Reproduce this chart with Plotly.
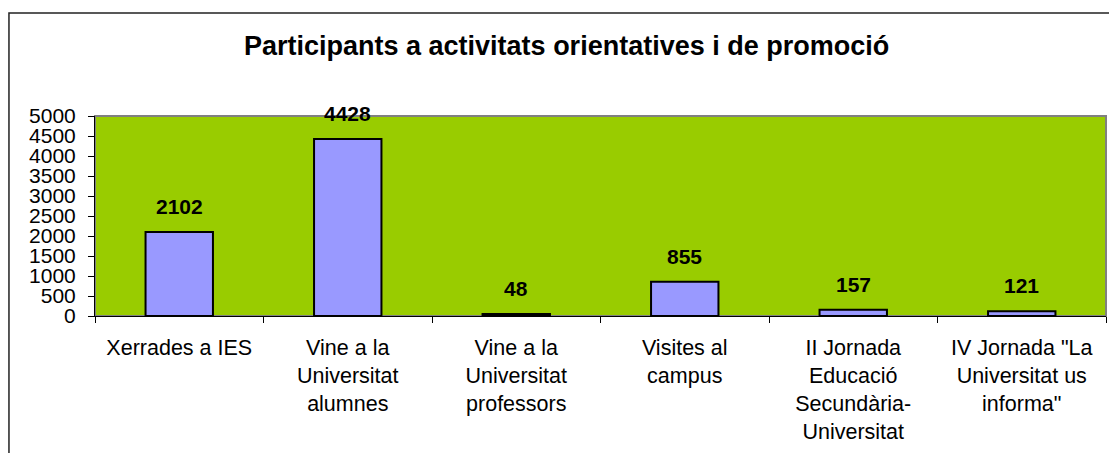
import plotly.graph_objects as go

categories = [
    "Xerrades a IES",
    "Vine a la<br>Universitat<br>alumnes",
    "Vine a la<br>Universitat<br>professors",
    "Visites al<br>campus",
    "II Jornada<br>Educació<br>Secundària-<br>Universitat",
    "IV Jornada \"La<br>Universitat us<br>informa\"",
]
participants = [2102, 4428, 48, 855, 157, 121]
y_ticks = list(range(0, 5001, 500))

FONT = "Arial, Liberation Sans, sans-serif"

fig = go.Figure(go.Bar(
    x=categories, y=participants, width=0.4,
    marker=dict(color="#9999FF", line=dict(color="black", width=2)),
    hoverinfo="x+y",
))

# value labels sit a bit above each bar
for c, v in zip(categories, participants):
    fig.add_annotation(x=c, y=v, text=f"<b>{v}</b>", showarrow=False,
                       yanchor="bottom", yshift=12,
                       font=dict(family=FONT, size=21, color="black"))

fig.add_annotation(xref="paper", yref="paper", x=0.466, y=1.35,
                   text="<b>Participants a activitats orientatives i de promoció</b>",
                   showarrow=False, xanchor="center", yanchor="middle",
                   font=dict(family=FONT, size=27, color="black"))

# plot area border (gray) and outer chart frame
fig.add_shape(type="rect", xref="paper", yref="paper", x0=0, x1=1, y0=0, y1=1,
              line=dict(color="#808080", width=2), layer="below")
fig.add_shape(type="rect", xref="paper", yref="paper", x0=-0.0851, x1=1.2,
              y0=-1.0, y1=1.515, line=dict(color="#222222", width=1.5))

fig.update_xaxes(showline=True, linecolor="black", linewidth=1,
                 ticks="outside", tickson="boundaries", ticklen=6,
                 tickcolor="black", showgrid=False, ticklabelstandoff=12,
                 tickfont=dict(family=FONT, size=21.5, color="black"))
fig.update_yaxes(range=[0, 5000], tickvals=y_ticks, showline=True,
                 linecolor="black", linewidth=1, ticks="outside", ticklen=6,
                 tickcolor="black", showgrid=False, zeroline=False,
                 ticklabelstandoff=8,
                 tickfont=dict(family=FONT, size=21, color="black"))

fig.update_layout(width=1101, height=445, autosize=False,
                  margin=dict(l=87, r=3, t=108, b=137),
                  plot_bgcolor="#99CC00", paper_bgcolor="white",
                  showlegend=False, bargap=0.6)

fig.write_html("out.html")
